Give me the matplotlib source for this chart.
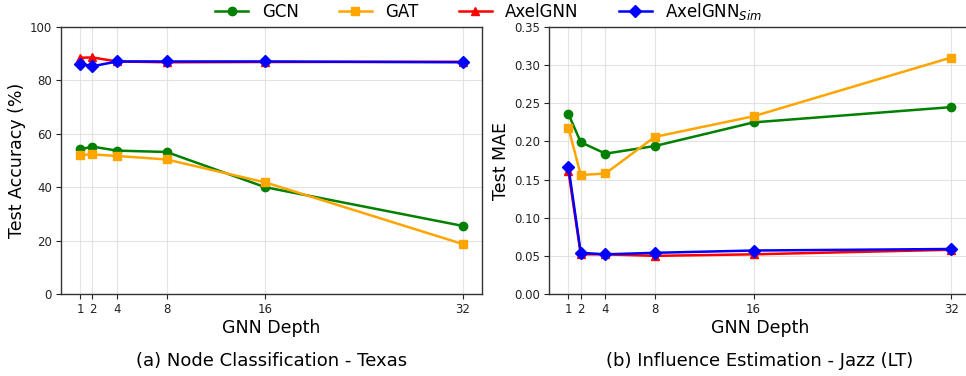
import matplotlib
matplotlib.use("Agg")
import matplotlib.pyplot as plt

depths = [1, 2, 4, 8, 16, 32]
series_names = ["GCN", "GAT", "AxelGNN", r"AxelGNN$_{Sim}$"]

# (a) Node Classification - Texas, test accuracy (%)
texas_gcn = [54.2, 55.2, 53.7, 53.2, 40.0, 25.5]
texas_gat = [52.1, 52.3, 51.7, 50.4, 41.8, 18.7]
texas_axel = [88.5, 88.6, 87.1, 86.8, 86.9, 87.0]
texas_sim = [86.3, 85.3, 87.1, 87.1, 87.1, 86.8]

# (b) Influence Estimation - Jazz (LT), test MAE
jazz_gcn = [0.236, 0.199, 0.184, 0.194, 0.225, 0.245]
jazz_gat = [0.218, 0.156, 0.158, 0.206, 0.233, 0.310]
jazz_axel = [0.161, 0.052, 0.052, 0.050, 0.052, 0.058]
jazz_sim = [0.167, 0.054, 0.052, 0.054, 0.057, 0.059]

colors = ["green", "orange", "red", "blue"]
markers = ["o", "s", "^", "D"]

fig = plt.figure(figsize=(9.66, 3.76), dpi=100)
ax1 = fig.add_axes([0.0631, 0.2181, 0.4358, 0.710])
ax2 = fig.add_axes([0.5686, 0.2181, 0.4358, 0.710])

def draw(ax, data, ylim, yticks, ylabel, title, fmt):
    handles = []
    for vals, c, m, name in zip(data, colors, markers, series_names):
        h, = ax.plot(depths, vals, color=c, marker=m, markersize=6 if m != "D" else 5.8,
                     linewidth=1.8, label=name)
        handles.append(h)
    ax.set_ylim(*ylim)
    ax.set_yticks(yticks)
    ax.set_yticklabels([fmt(v) for v in yticks])
    ax.set_xticks(depths)
    ax.set_xticklabels([str(d) for d in depths])
    ax.tick_params(labelsize=8.5, colors="#222222", length=3.5, pad=3)
    ax.grid(True, color="#dddddd", linewidth=0.8, alpha=0.8)
    ax.set_axisbelow(True)
    for s in ax.spines.values():
        s.set_color("#333333")
        s.set_linewidth(1.0)
    ax.set_xlabel("GNN Depth", fontsize=12.5, labelpad=2)
    ax.set_ylabel(ylabel, fontsize=12.5, labelpad=3)
    ax.text(0.5, -0.218, title, transform=ax.transAxes, ha="center", va="top", fontsize=13)
    return handles

handles = draw(ax1, [texas_gcn, texas_gat, texas_axel, texas_sim], (0, 100),
               [0, 20, 40, 60, 80, 100], "Test Accuracy (%)",
               "(a) Node Classification - Texas", lambda v: f"{v:g}")
draw(ax2, [jazz_gcn, jazz_gat, jazz_axel, jazz_sim], (0, 0.35),
     [0.0, 0.05, 0.10, 0.15, 0.20, 0.25, 0.30, 0.35], "Test MAE",
     "(b) Influence Estimation - Jazz (LT)", lambda v: f"{v:.2f}")

fig.legend(handles=handles, labels=series_names, loc="center", bbox_to_anchor=(0.506, 0.970),
           ncol=4, frameon=False, fontsize=12, columnspacing=2.4, handlelength=2.0,
           borderaxespad=0, handletextpad=0.8)

fig.savefig("out.png", dpi=100)
